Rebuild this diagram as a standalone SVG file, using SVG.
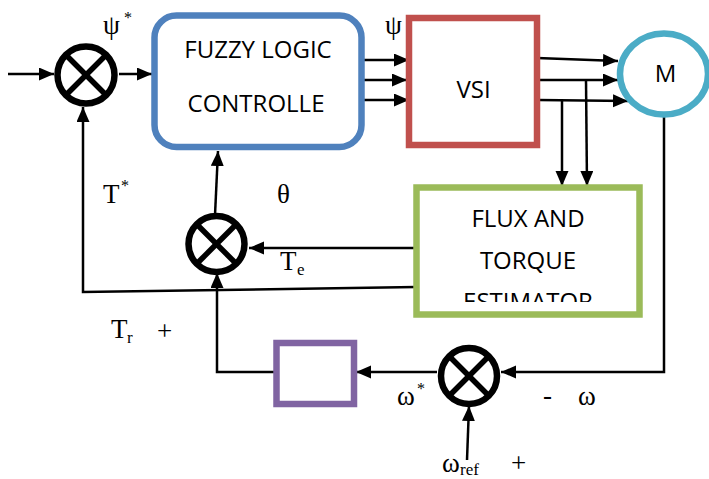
<svg xmlns="http://www.w3.org/2000/svg" width="709" height="479" viewBox="0 0 709 479">
<style>
.conn{fill:none;stroke:#000;stroke-width:2.5}
.sum circle{fill:#fff;stroke:#000;stroke-width:6.5}
.sum line{stroke:#000;stroke-width:5.5}
.box{fill:#fff;stroke-width:6.5}
.t{font-family:"Open Sans","Liberation Sans",sans-serif;font-size:24px;fill:#000;text-anchor:middle}
.m{font-family:"Liberation Serif","Times New Roman",serif;font-size:27px;fill:#000}
.s{font-family:"Liberation Serif","Times New Roman",serif;font-size:17px;fill:#000}
.sup{font-family:"Liberation Serif","Times New Roman",serif;font-size:16px;fill:#000}
</style>
<defs>
<marker id="ah" markerUnits="userSpaceOnUse" markerWidth="16" markerHeight="14" refX="15" refY="6.5" orient="auto">
<path d="M0,0 L15,6.5 L0,13 z" fill="#000"/>
</marker>
<clipPath id="estclip"><rect x="420" y="191" width="217" height="111"/></clipPath>
</defs>
<rect width="709" height="479" fill="#fff"/>

<g id="labels-under">
<text class="m" x="385" y="34">ψ</text>
</g>

<g id="connectors">
<path class="conn" d="M8,74 L54,74" marker-end="url(#ah)"/>
<path class="conn" d="M119,74 L152,74" marker-end="url(#ah)"/>
<path class="conn" d="M363,60 L409,60" marker-end="url(#ah)"/>
<path class="conn" d="M363,80 L407,80" marker-end="url(#ah)"/>
<path class="conn" d="M363,100 L409,100" marker-end="url(#ah)"/>
<path class="conn" d="M537,58 L618,61" marker-end="url(#ah)"/>
<path class="conn" d="M537,80 L618,80" marker-end="url(#ah)"/>
<path class="conn" d="M538,100 L628,101" marker-end="url(#ah)"/>
<path class="conn" d="M562,100 L562,186" marker-end="url(#ah)"/>
<path class="conn" d="M586,80 L587,186" marker-end="url(#ah)"/>
<path class="conn" d="M416,248 L249,248" marker-end="url(#ah)"/>
<path class="conn" d="M416,287 L83,292 L83,107" marker-end="url(#ah)"/>
<path class="conn" d="M215,215 L218,151" marker-end="url(#ah)"/>
<path class="conn" d="M664,117 L664,372 L501,372" marker-end="url(#ah)"/>
<path class="conn" d="M437,372 L356,372" marker-end="url(#ah)"/>
<path class="conn" d="M276,372 L217,372 L217,273" marker-end="url(#ah)"/>
<path class="conn" d="M467,460 L469,406" marker-end="url(#ah)"/>
</g>

<g id="sum1" class="sum">
<circle cx="86" cy="75" r="28.5"/>
<line x1="66" y1="55" x2="106" y2="95"/>
<line x1="106" y1="55" x2="66" y2="95"/>
</g>

<g id="fuzzy">
<rect class="box" x="154.5" y="15.5" width="207" height="131.5" rx="22" stroke="#4F81BD"/>
<text class="t" x="258" y="58">FUZZY LOGIC</text>
<text class="t" x="256" y="112">CONTROLLE</text>
</g>

<g id="vsi">
<rect class="box" x="409" y="18" width="128" height="127" stroke="#C0504D"/>
<text class="t" x="473.5" y="98">VSI</text>
</g>

<g id="motor">
<ellipse cx="664" cy="74" rx="44" ry="40.5" fill="#fff" stroke="#4BACC6" stroke-width="6.5"/>
<text class="t" x="665.5" y="82">M</text>
</g>

<g id="estimator">
<rect class="box" x="416.5" y="187.5" width="223" height="127" stroke="#9BBB59"/>
<g clip-path="url(#estclip)">
<text class="t" x="528" y="227">FLUX AND</text>
<text class="t" x="528" y="269">TORQUE</text>
<text class="t" x="528" y="310">ESTIMATOR</text>
</g>
</g>

<g id="sum2" class="sum">
<circle cx="216.5" cy="244" r="28"/>
<line x1="197" y1="224.5" x2="236" y2="263.5"/>
<line x1="236" y1="224.5" x2="197" y2="263.5"/>
</g>

<g id="speedctrl">
<rect class="box" x="276.5" y="343" width="77.5" height="61" stroke="#8064A2"/>
</g>

<g id="sum3" class="sum">
<circle cx="469" cy="376" r="28"/>
<line x1="449.5" y1="356.5" x2="488.5" y2="395.5"/>
<line x1="488.5" y1="356.5" x2="449.5" y2="395.5"/>
</g>

<g id="labels">
<text class="m" x="103" y="34">ψ</text>
<text class="sup" x="124" y="23">*</text>
<text class="m" x="103" y="203">T</text>
<text class="sup" x="121" y="191">*</text>
<text class="m" x="277" y="203">θ</text>
<text class="m" x="280" y="270">T</text>
<text class="s" x="297" y="275">e</text>
<text class="m" x="111" y="338">T</text>
<text class="s" x="127" y="343">r</text>
<text class="m" x="157" y="340">+</text>
<text class="m" x="397" y="405">ω</text>
<text class="sup" x="417" y="394">*</text>
<text class="m" x="543" y="404">-</text>
<text class="m" x="578" y="405">ω</text>
<text class="m" x="442" y="472">ω</text>
<text class="s" x="460" y="475">ref</text>
<text class="m" x="511" y="472">+</text>
</g>
</svg>
